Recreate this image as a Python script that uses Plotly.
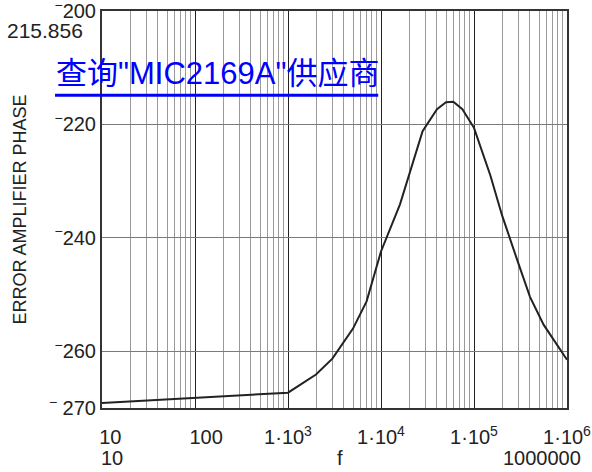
import plotly.graph_objects as go

# data
freq = [10, 100, 1000, 2000, 3000, 5000, 7000, 10000, 16000, 28000, 40000,
        50000, 60000, 75000, 100000, 150000, 200000, 300000, 400000, 560000,
        780000, 1000000]
phase = [-269.1, -268.2, -267.3, -264.1, -261.3, -256.0, -251.2, -242.4, -234.1,
         -221.2, -217.3, -216.1, -216.0, -217.3, -220.6, -229.0, -236.0, -244.5,
         -250.4, -255.3, -258.8, -261.5]

NB = "\u00a0"
x_tickvals = [10, 100, 1000, 10000, 100000, 1000000]
x_ticktext = [NB * 3 + "10", NB * 4 + "100", "1·10<sup>3</sup>", "1·10<sup>4</sup>",
              "1·10<sup>5</sup>", "1·10<sup>6</sup>"]
y_tickvals = [-270, -260, -240, -220, -200]
y_ticktext = ["<sup>−</sup> 270", "<sup>−</sup>260", "<sup>−</sup>240",
              "<sup>−</sup>220", "<sup>−</sup>200"]

FONT = "Liberation Sans, Arial, Noto Sans CJK SC"

fig = go.Figure()
fig.add_trace(go.Scatter(x=freq, y=phase, mode="lines",
                         line=dict(color="#222222", width=2), showlegend=False,
                         hoverinfo="skip"))

fig.update_layout(
    width=592, height=472,
    margin=dict(l=102, r=25, t=11, b=64),
    paper_bgcolor="white", plot_bgcolor="white",
    font=dict(family=FONT, size=20, color="#222222"),
    xaxis=dict(type="log", range=[1, 6], tickvals=x_tickvals, ticktext=x_ticktext,
               showgrid=True, gridcolor="#222222", gridwidth=1,
               minor=dict(showgrid=True, gridcolor="#9a9a9a", gridwidth=1, dtick="D1"),
               showline=True, mirror=True, linecolor="#333333", linewidth=2,
               ticks="", tickfont=dict(size=20), zeroline=False, automargin=False,
               ticklabelstandoff=10, ticklabeloverflow="allow"),
    yaxis=dict(range=[-270, -200], tickvals=y_tickvals, ticktext=y_ticktext,
               showgrid=True, gridcolor="#7a7a7a", gridwidth=1,
               showline=True, mirror=True, linecolor="#333333", linewidth=2,
               ticks="", tickfont=dict(size=20), zeroline=False, automargin=False,
               ticklabeloverflow="allow",
               title=dict(text="ERROR AMPLIFIER PHASE", font=dict(size=18), standoff=18)),
)

fig.add_annotation(x=1, y=0, xref="x", yref="paper", text="10", showarrow=False,
                   xshift=10, yshift=-37, yanchor="top", font=dict(size=20))
fig.add_annotation(x=0.512, y=0, xref="paper", yref="paper", text="f", showarrow=False,
                   yshift=-37, yanchor="top", font=dict(size=20))
fig.add_annotation(x=1.035, y=0, xref="paper", yref="paper", text="1000000",
                   showarrow=False, xanchor="right", yshift=-37, yanchor="top",
                   font=dict(size=20))
fig.add_annotation(x=-0.208, y=0.952, xref="paper", yref="paper", text="215.856",
                   showarrow=False, xanchor="left", yanchor="middle", font=dict(size=21))
fig.add_annotation(x=-0.103, y=0.843, xref="paper", yref="paper",
                   text='查询"MIC2169A"供应商', showarrow=False, xanchor="left",
                   yanchor="middle", font=dict(size=31, color="#0000ff"))
fig.add_shape(type="line", xref="paper", yref="paper", x0=-0.101, x1=0.594,
              y0=0.788, y1=0.788, line=dict(color="#0000ff", width=3))

fig.write_html("out.html", config={"displayModeBar": False},
               post_script="document.body.style.margin='0';document.body.style.overflow='hidden';")
